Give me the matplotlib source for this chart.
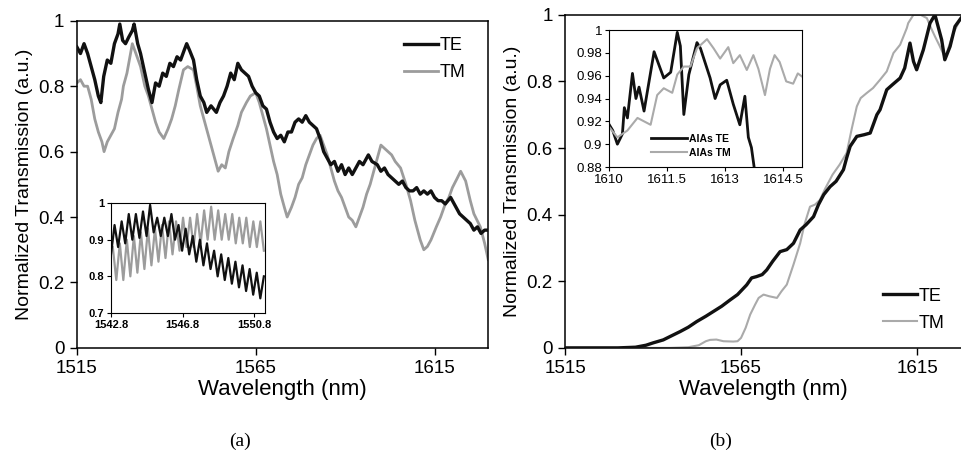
import numpy as np
import matplotlib
matplotlib.use("Agg")
import matplotlib.pyplot as plt

plt.rcParams['font.family'] = ['Liberation Sans', 'DejaVu Sans']

# ---- panel (a) main data ----
wl_te_a = [1515, 1516, 1517, 1518, 1519, 1520, 1521, 1521.7, 1522.5, 1523.5, 1524.5, 1525.5,
           1526.5, 1527, 1527.8, 1528.6, 1529.5, 1530.5, 1531, 1532, 1532.8, 1534, 1535, 1536,
           1537, 1538, 1539, 1540, 1541, 1542, 1543, 1544, 1545, 1545.7, 1546.5, 1547.6,
           1548.5, 1549.5, 1550.5, 1551.3, 1552.5, 1554, 1555, 1556, 1557, 1558, 1559, 1560,
           1561, 1562, 1563, 1564, 1565, 1566, 1567, 1568, 1569, 1570, 1571, 1572, 1573, 1574,
           1575, 1576, 1577, 1578, 1579, 1580, 1581, 1582, 1583, 1584, 1585, 1586, 1587, 1588,
           1589, 1590, 1591, 1592, 1593, 1594, 1595, 1596.5, 1597.5, 1599, 1600, 1601, 1602,
           1603, 1604, 1605, 1606, 1607, 1608, 1609, 1610, 1611, 1612, 1613, 1614, 1615, 1616,
           1617, 1618, 1619.5, 1621, 1622, 1623, 1624, 1625, 1626, 1627, 1628, 1629, 1630]
te_a = [0.92, 0.90, 0.93, 0.90, 0.86, 0.82, 0.77, 0.75, 0.83, 0.88, 0.87, 0.93,
        0.96, 0.99, 0.94, 0.93, 0.95, 0.97, 0.99, 0.93, 0.90, 0.84, 0.79, 0.75,
        0.81, 0.80, 0.84, 0.83, 0.87, 0.86, 0.89, 0.88, 0.91, 0.93, 0.91, 0.88,
        0.82, 0.77, 0.75, 0.72, 0.74, 0.72, 0.75, 0.77, 0.80, 0.84, 0.82, 0.87,
        0.85, 0.84, 0.83, 0.80, 0.78, 0.77, 0.74, 0.73, 0.69, 0.66, 0.64, 0.65, 0.63, 0.66,
        0.66, 0.69, 0.70, 0.69, 0.71, 0.69, 0.68, 0.67, 0.64, 0.60, 0.58, 0.56, 0.57, 0.54,
        0.56, 0.53, 0.55, 0.53, 0.55, 0.57, 0.56, 0.59, 0.57, 0.56, 0.54, 0.55, 0.53,
        0.52, 0.51, 0.50, 0.51, 0.49, 0.48, 0.48, 0.49, 0.47, 0.48, 0.47, 0.48, 0.46, 0.45,
        0.45, 0.44, 0.46, 0.43, 0.41, 0.40, 0.39, 0.38, 0.36, 0.37, 0.35, 0.36, 0.36]

wl_tm_a = [1515, 1516, 1517, 1518, 1519, 1520, 1521, 1522, 1522.6, 1523.5, 1524.5, 1525.5,
           1526.5, 1527.5, 1528, 1529, 1530, 1530.5, 1531.5, 1532.8, 1534, 1535, 1536, 1537,
           1538, 1539.3, 1540.5, 1541.5, 1542.5, 1543.5, 1544.8, 1546, 1547.6, 1548.5, 1549.5,
           1550.5, 1551.5, 1552.5, 1553.5, 1554.5, 1555.5, 1556.5, 1557.5, 1558.7, 1560, 1561,
           1562.4, 1563.5, 1565, 1566, 1567, 1568, 1569, 1570, 1571, 1572, 1573, 1573.8, 1575,
           1576, 1577, 1578, 1579, 1580, 1581, 1582, 1583, 1584, 1585, 1586, 1587, 1588, 1589,
           1590, 1591, 1592, 1593, 1594, 1595, 1596, 1597, 1598, 1599, 1600, 1601, 1602, 1603,
           1604, 1605.5, 1607, 1608.3, 1609.5, 1611, 1612, 1613, 1614, 1615.5, 1616.7, 1618,
           1619, 1620, 1621.4, 1622.3, 1623.7, 1625, 1626, 1627.8, 1629, 1630]
tm_a = [0.81, 0.82, 0.80, 0.80, 0.76, 0.70, 0.66, 0.63, 0.60, 0.63, 0.65, 0.67,
        0.72, 0.76, 0.80, 0.84, 0.90, 0.93, 0.90, 0.86, 0.80, 0.77, 0.73, 0.69,
        0.66, 0.64, 0.67, 0.70, 0.74, 0.79, 0.85, 0.86, 0.85, 0.80, 0.74,
        0.70, 0.66, 0.62, 0.58, 0.54, 0.56, 0.55, 0.60, 0.64, 0.68, 0.72,
        0.75, 0.77, 0.78, 0.75, 0.71, 0.67, 0.62, 0.57, 0.53, 0.47, 0.43, 0.40, 0.43,
        0.46, 0.50, 0.52, 0.56, 0.59, 0.62, 0.64, 0.65, 0.62, 0.59, 0.55, 0.51, 0.48, 0.46,
        0.43, 0.40, 0.39, 0.37, 0.40, 0.43, 0.47, 0.50, 0.54, 0.58, 0.62, 0.61, 0.60, 0.59,
        0.57, 0.55, 0.50, 0.45, 0.39, 0.33, 0.30, 0.31, 0.33, 0.37, 0.40, 0.44,
        0.46, 0.49, 0.52, 0.54, 0.51, 0.45, 0.41, 0.37, 0.32, 0.27]

# ---- panel (a) inset: alternating troughs/peaks of the fine fringes ----
ins_a_range = (1542.8, 1551.35)
te_ins_a = [0.86, 0.94, 0.88, 0.95, 0.89, 0.97, 0.90, 0.97, 0.905, 0.977, 0.91, 0.995,
            0.92, 0.96, 0.91, 0.96, 0.91, 0.97, 0.90, 0.94, 0.87, 0.93, 0.86, 0.91,
            0.84, 0.90, 0.83, 0.89, 0.82, 0.87, 0.80, 0.86, 0.79, 0.85, 0.78, 0.84,
            0.77, 0.83, 0.76, 0.82, 0.75, 0.81, 0.74, 0.80]
tm_ins_a = [0.88, 0.79, 0.89, 0.79, 0.90, 0.80, 0.91, 0.81, 0.92, 0.82, 0.93, 0.83,
            0.93, 0.84, 0.94, 0.85, 0.95, 0.86, 0.95, 0.87, 0.96, 0.88, 0.96, 0.88,
            0.97, 0.89, 0.98, 0.90, 0.99, 0.90, 0.98, 0.90, 0.97, 0.90, 0.97, 0.89,
            0.96, 0.89, 0.96, 0.88, 0.95, 0.88, 0.95, 0.87]

# ---- panel (b) main data ----
wl_te_b = [1515, 1520, 1525, 1530, 1535, 1538, 1540, 1542.9, 1545, 1547.7, 1550, 1552.4,
           1555, 1557.1, 1559.5, 1561.9, 1564, 1566.6, 1568, 1569.4, 1571, 1572.3, 1574,
           1576.1, 1578, 1579.9, 1581.8, 1583.5, 1585.6, 1587, 1588.5, 1590.3, 1592, 1594.1,
           1595, 1596, 1597.9, 1600, 1601.7, 1603.6, 1604.5, 1606.4, 1608, 1610.2, 1611.5,
           1613, 1614, 1614.9, 1616.8, 1618.7, 1620.1, 1622, 1622.9, 1624.4, 1625.8, 1627.5]
te_b = [0.0, 0.0, 0.0, 0.0, 0.002, 0.008, 0.015, 0.024, 0.035, 0.049, 0.062, 0.079,
        0.095, 0.109, 0.125, 0.144, 0.16, 0.189, 0.21, 0.214, 0.22, 0.234, 0.26,
        0.289, 0.295, 0.314, 0.354, 0.37, 0.394, 0.43, 0.46, 0.484, 0.50, 0.535,
        0.57, 0.605, 0.635, 0.64, 0.645, 0.70, 0.715, 0.775, 0.79, 0.81, 0.84,
        0.915, 0.86, 0.835, 0.895, 0.975, 1.0, 0.925, 0.865, 0.905, 0.965, 0.99]

wl_tm_b = [1515, 1530, 1545, 1550, 1553, 1555, 1556.2, 1558, 1560, 1562.8, 1564, 1565,
           1566.3, 1567.6, 1569, 1570, 1571.4, 1573, 1575.2, 1576.5, 1578, 1579.9, 1581.8,
           1583, 1584.6, 1586, 1587.4, 1589, 1591, 1593, 1595, 1596.5, 1597.9, 1599, 1600.7,
           1602.5, 1604.5, 1606.4, 1608.3, 1610.2, 1612.1, 1612.5, 1614, 1616, 1617.8, 1619,
           1620.1, 1621.5, 1623, 1624.2, 1625.3, 1627.5]
tm_b = [0.0, 0.0, 0.0, 0.002, 0.008, 0.02, 0.024, 0.025, 0.02, 0.019, 0.02, 0.03,
        0.06, 0.10, 0.13, 0.15, 0.16, 0.155, 0.15, 0.17, 0.19, 0.25, 0.314,
        0.37, 0.424, 0.43, 0.444, 0.48, 0.52, 0.55, 0.585, 0.66, 0.725, 0.75, 0.765,
        0.78, 0.805, 0.83, 0.885, 0.91, 0.96, 0.975, 1.0, 1.0, 0.99, 0.96,
        0.935, 0.905, 0.87, 0.91, 0.945, 0.99]

# ---- panel (b) inset ----
wl_te_ins_b = [1610, 1610.09, 1610.21, 1610.34, 1610.39, 1610.47, 1610.6, 1610.69, 1610.77,
               1610.9, 1611.03, 1611.16, 1611.29, 1611.41, 1611.59, 1611.76, 1611.84, 1611.93,
               1612.06, 1612.27, 1612.36, 1612.61, 1612.74, 1612.87, 1613.04, 1613.21,
               1613.38, 1613.51, 1613.6, 1613.68, 1613.77]
te_ins_b = [0.917, 0.912, 0.90, 0.909, 0.932, 0.923, 0.962, 0.94, 0.95,
            0.929, 0.955, 0.981, 0.969, 0.958, 0.963, 0.998, 0.986, 0.926,
            0.961, 0.989, 0.984, 0.958, 0.94, 0.952, 0.956, 0.935,
            0.917, 0.942, 0.906, 0.897, 0.875]
wl_tm_ins_b = [1610, 1610.21, 1610.47, 1610.73, 1610.9, 1611.07, 1611.24, 1611.41, 1611.63,
               1611.76, 1611.93, 1612.1, 1612.27, 1612.53, 1612.7, 1612.87, 1613.08, 1613.21,
               1613.38, 1613.56, 1613.73, 1613.86, 1614.03, 1614.16, 1614.28, 1614.41,
               1614.58, 1614.76, 1614.88, 1615]
tm_ins_b = [0.915, 0.906, 0.912, 0.923, 0.92, 0.917, 0.943, 0.949, 0.945,
            0.961, 0.968, 0.968, 0.984, 0.992, 0.984, 0.975, 0.985, 0.971,
            0.978, 0.965, 0.978, 0.966, 0.943, 0.966, 0.978, 0.972,
            0.955, 0.953, 0.962, 0.959]

main_xticks = [1515, 1565, 1615]
main_yticks = [0, 0.2, 0.4, 0.6, 0.8, 1]
main_ylabels = ["0", "0.2", "0.4", "0.6", "0.8", "1"]

BLACK = "#111111"
GRAY_A = "#9c9c9c"
GRAY_B = "#aaaaaa"

fig = plt.figure(figsize=(9.61, 4.62), dpi=100)


def style_main(ax):
    ax.set_ylim(0, 1)
    ax.set_xticks(main_xticks)
    ax.set_yticks(main_yticks)
    ax.set_yticklabels(main_ylabels)
    ax.tick_params(direction="out", length=5, width=1, labelsize=13.5, pad=4)
    for s in ax.spines.values():
        s.set_linewidth(1.1)
    ax.set_xlabel("Wavelength (nm)", fontsize=16, labelpad=1)
    ax.set_ylabel("Normalized Transmission (a.u.)", fontsize=14, labelpad=4)


# panel (a)
ax1 = fig.add_axes([0.080, 0.247, 0.428, 0.708])
ax1.plot(wl_tm_a, tm_a, color=GRAY_A, lw=2.0, label="TM", zorder=2)
ax1.plot(wl_te_a, te_a, color=BLACK, lw=2.4, label="TE", zorder=3)
ax1.set_xlim(1515, 1630)
style_main(ax1)
h, l = ax1.get_legend_handles_labels()
ax1.legend(h[::-1], l[::-1], loc="upper right", bbox_to_anchor=(0.985, 1.0), frameon=False,
           fontsize=13, handlelength=1.9, handletextpad=0.1, labelspacing=0.55)

ins1 = fig.add_axes([0.1155, 0.3225, 0.160, 0.238])
xa = np.linspace(ins_a_range[0], ins_a_range[1], len(te_ins_a))
xb = np.linspace(ins_a_range[0] + 0.1, ins_a_range[1], len(tm_ins_a))
ins1.plot(xb, tm_ins_a, color=GRAY_A, lw=1.6)
ins1.plot(xa, te_ins_a, color=BLACK, lw=1.6)
ins1.set_xlim(1542.8, 1551.4)
ins1.set_ylim(0.7, 1.0)
ins1.set_xticks([1542.8, 1546.8, 1550.8])
ins1.set_xticklabels(["1542.8", "1546.8", "1550.8"])
ins1.set_yticks([0.7, 0.8, 0.9, 1.0])
ins1.set_yticklabels(["0.7", "0.8", "0.9", "1"])
ins1.tick_params(direction="out", length=3, width=0.8, labelsize=8, pad=2)
for t in ins1.get_xticklabels() + ins1.get_yticklabels():
    t.set_fontweight("bold")

# panel (b)
ax2 = fig.add_axes([0.588, 0.247, 0.412, 0.721])
ax2.plot(wl_tm_b, tm_b, color=GRAY_B, lw=1.5, label="TM", zorder=2)
ax2.plot(wl_te_b, te_b, color=BLACK, lw=2.4, label="TE", zorder=3)
ax2.set_xlim(1515, 1627.5)
style_main(ax2)
ax2.spines["right"].set_visible(False)
h, l = ax2.get_legend_handles_labels()
ax2.legend(h[::-1], l[::-1], loc="lower right", bbox_to_anchor=(1.0, 0.0), frameon=False,
           fontsize=13, handlelength=1.9, handletextpad=0.1, labelspacing=0.55)

ins2 = fig.add_axes([0.634, 0.6385, 0.201, 0.2965])
ins2.plot(wl_te_ins_b, te_ins_b, color=BLACK, lw=2.0, label="AlAs TE")
ins2.plot(wl_tm_ins_b, tm_ins_b, color=GRAY_B, lw=1.5, label="AlAs TM")
ins2.set_xlim(1610, 1615)
ins2.set_ylim(0.88, 1.0)
ins2.set_xticks([1610, 1611.5, 1613, 1614.5])
ins2.set_xticklabels(["1610", "1611.5", "1613", "1614.5"])
ins2.set_yticks([0.88, 0.90, 0.92, 0.94, 0.96, 0.98, 1.0])
ins2.set_yticklabels(["0.88", "0.9", "0.92", "0.94", "0.96", "0.98", "1"])
ins2.tick_params(direction="out", length=3, width=0.8, labelsize=9.5, pad=2)
ins2.legend(loc="lower left", bbox_to_anchor=(0.17, 0.0), frameon=False,
            handlelength=3.4, handletextpad=0.2, labelspacing=0.35,
            prop={"weight": "bold", "size": 7.5})

fig.text(0.25, 0.035, "(a)", fontsize=14, ha="center", family="Liberation Serif")
fig.text(0.75, 0.035, "(b)", fontsize=14, ha="center", family="Liberation Serif")

fig.savefig("out.png", dpi=100)
